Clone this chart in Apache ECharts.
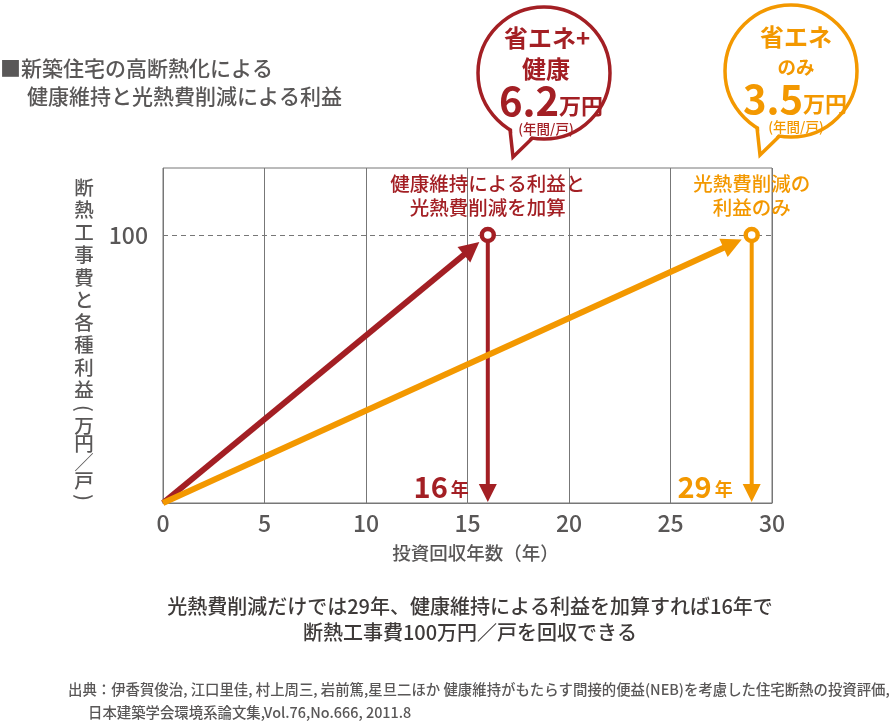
<!DOCTYPE html>
<html><head><meta charset="utf-8">
<script src="https://cdn.jsdelivr.net/npm/echarts@6/dist/echarts.min.js"></script>
<style>html,body{margin:0;padding:0;background:#fff}#c{width:896px;height:722px}</style>
</head><body><div id="c"></div>
<script>
const FONT = '"Noto Sans CJK JP","Noto Sans",sans-serif';
const GREY = '#595757';
const scenarioNames = ['省エネ+健康', '省エネのみ'];
const scenarioNotes = ['健康維持による利益と\n光熱費削減を加算', '光熱費削減の\n利益のみ'];
const paybackYears = [16, 29];
const investment = 100;
const annualBenefit = ['6.2', '3.5'];
const colors = ['#a31f24', '#f39800'];
const xTicks = [0, 5, 10, 15, 20, 25, 30];
const yTickShown = [100];

function makeRender(idx) {
  const color = colors[idx];
  return function (params, api) {
    const x = api.value(0), y = api.value(1);
    const p0 = api.coord([0, 0]);
    const p1 = api.coord([x, y]);
    const pb = api.coord([x, 0]);
    let dx = p1[0] - p0[0], dy = p1[1] - p0[1];
    const len = Math.sqrt(dx * dx + dy * dy);
    const ux = dx / len, uy = dy / len;
    const nx = -uy, ny = ux;
    const tip = [p1[0] - ux * 11, p1[1] - uy * 11];
    const base = [tip[0] - ux * 20, tip[1] - uy * 20];
    const vTipY = pb[1] - 1, vBaseY = vTipY - 18;
    return {
      type: 'group',
      children: [
        { type: 'line', shape: { x1: p0[0], y1: p0[1], x2: base[0] + ux * 2, y2: base[1] + uy * 2 },
          style: { stroke: color, lineWidth: 6 } },
        { type: 'polygon', shape: { points: [tip, [base[0] + nx * 10, base[1] + ny * 10], [base[0] - nx * 10, base[1] - ny * 10]] },
          style: { fill: color } },
        { type: 'line', shape: { x1: p1[0], y1: p1[1], x2: p1[0], y2: vBaseY + 1 },
          style: { stroke: color, lineWidth: 4 } },
        { type: 'polygon', shape: { points: [[pb[0], vTipY], [pb[0] - 9, vBaseY], [pb[0] + 9, vBaseY]] },
          style: { fill: color } },
        { type: 'circle', shape: { cx: p1[0], cy: p1[1], r: 6 },
          style: { fill: '#fff', stroke: color, lineWidth: 4.5 } },
        { type: 'text', x: p1[0], y: p1[1] - 39,
          style: { text: scenarioNotes[idx], fill: color, font: '500 19.5px ' + FONT, lineHeight: 24,
                   align: 'center', verticalAlign: 'middle' } },
        { type: 'text', x: pb[0] - 19, y: pb[1] - 16,
          style: { text: '{n|' + x + '}{u|年}', align: 'right', verticalAlign: 'middle',
                   rich: { n: { fontSize: 29, fontWeight: 'bold', fill: color, fontFamily: FONT, padding: [0, 3, 0, 0] },
                           u: { fontSize: 18, fontWeight: 'bold', fill: color, fontFamily: FONT, padding: [4, 0, 0, 0] } } } }
      ]
    };
  };
}

function bubble(cx, cy, r, tip, a1, a2, color, lines) {
  const rad = d => d * Math.PI / 180;
  const q1 = [cx + r * Math.cos(rad(a1)), cy + r * Math.sin(rad(a1))];
  const q2 = [cx + r * Math.cos(rad(a2)), cy + r * Math.sin(rad(a2))];
  const qi1 = [cx + (r - 4) * Math.cos(rad(a1)), cy + (r - 4) * Math.sin(rad(a1))];
  const qi2 = [cx + (r - 4) * Math.cos(rad(a2)), cy + (r - 4) * Math.sin(rad(a2))];
  return [
    { type: 'circle', shape: { cx, cy, r }, style: { fill: '#fff', stroke: color, lineWidth: 3.5 } },
    { type: 'polygon', shape: { points: [qi1, tip, qi2] }, style: { fill: '#fff' } },
    { type: 'polyline', shape: { points: [q1, tip, q2] }, style: { stroke: color, lineWidth: 3.5, fill: null } }
  ].concat(lines);
}

function txt(x, y, text, size, color, weight, align) {
  return { type: 'text', x, y, style: { text, fill: color || GREY, font: (weight || '500') + ' ' + size + 'px ' + FONT,
           textAlign: align || 'left', textVerticalAlign: 'middle' } };
}

function moneyText(x, y, val, color) {
  return { type: 'text', x, y, style: { text: '{a|' + val + '}{b|万円}', textAlign: 'center', textVerticalAlign: 'middle',
    rich: { a: { fontSize: 40, fontWeight: 'bold', fill: color, fontFamily: FONT },
            b: { fontSize: 22, fontWeight: 'bold', fill: color, fontFamily: FONT, padding: [10, 0, 0, 0] } } } };
}

// vertical axis title
function verticalTitle(label, x, yStart) {
  const out = [];
  let y = yStart;
  let afterParen = false;
  label.split('').forEach(ch => {
    if (ch === '(' || ch === ')') {
      const h = 15;
      out.push({ type: 'text', x, y: y + h / 2, rotation: -Math.PI / 2,
        style: { text: ch, fill: GREY, font: '500 19.5px ' + FONT, textAlign: 'center', textVerticalAlign: 'middle' } });
      y += h;
      afterParen = true;
    } else {
      const h = afterParen ? 18.5 : 22.5;
      out.push({ type: 'text', x, y: y + h / 2,
        style: { text: ch, fill: GREY, font: '500 19.5px ' + FONT, textAlign: 'center', textVerticalAlign: 'middle' } });
      y += h;
    }
  });
  return out;
}

const chart = echarts.init(document.getElementById('c'));
const series = paybackYears.map((yr, i) => ({
  type: 'custom',
  name: scenarioNames[i],
  data: [[yr, investment]],
  clip: false,
  z: 5 + i,
  renderItem: makeRender(i),
  markLine: i === 0 ? {
    silent: true, symbol: 'none', label: { show: false }, z: 1,
    lineStyle: { type: [5, 4], color: '#777', width: 1 },
    data: [{ yAxis: investment }]
  } : undefined
}));

const redBubble = bubble(544, 73, 66, [513, 157], 100, 121, colors[0], [
  txt(547, 38, '省エネ+', 24, colors[0], 'bold', 'center'),
  txt(546, 69, '健康', 24, colors[0], 'bold', 'center'),
  moneyText(551, 101, annualBenefit[0], colors[0]),
  txt(546, 129, '(年間/戸)', 13.5, colors[0], '500', 'center')
]);
const orangeBubble = bubble(791, 71, 66, [760, 155], 100, 121, colors[1], [
  txt(796, 37, '省エネ', 24, colors[1], 'bold', 'center'),
  txt(796, 67, 'のみ', 18.5, colors[1], 'bold', 'center'),
  moneyText(795, 99, annualBenefit[1], colors[1]),
  txt(796, 127, '(年間/戸)', 13.5, colors[1], '500', 'center')
]);

chart.setOption({
  animation: false,
  textStyle: { fontFamily: FONT },
  grid: { left: 163, right: 124, top: 168, bottom: 219, show: true, borderColor: '#777', borderWidth: 1, backgroundColor: 'transparent' },
  xAxis: {
    type: 'value', min: xTicks[0], max: xTicks[xTicks.length - 1], interval: 5,
    axisLine: { show: true, lineStyle: { color: '#777', width: 1 } },
    axisTick: { show: false },
    splitLine: { show: true, lineStyle: { color: '#777', width: 1 } },
    axisLabel: { fontSize: 23, color: GREY, margin: 9, fontFamily: FONT, fontWeight: 500 },
    name: '投資回収年数（年）', nameLocation: 'middle', nameGap: 41,
    nameTextStyle: { fontSize: 18.5, color: GREY, fontFamily: FONT, fontWeight: 500, padding: [0, 0, 0, 16] }
  },
  yAxis: {
    type: 'value', min: 0, max: 125, interval: 100,
    axisLine: { show: false }, axisTick: { show: false }, splitLine: { show: false },
    axisLabel: { fontSize: 23, color: GREY, margin: 15, fontFamily: FONT, fontWeight: 500,
                 formatter: v => yTickShown.indexOf(v) >= 0 ? String(v) : '' }
  },
  graphic: [
    txt(0, 68, '■新築住宅の高断熱化による', 21, GREY),
    txt(27, 96, '健康維持と光熱費削減による利益', 21, GREY)
  ].concat(
    verticalTitle('断熱工事費と各種利益(万円／戸)', 84, 176),
    [
      txt(470, 606, '光熱費削減だけでは29年、健康維持による利益を加算すれば16年で', 20, '#3e3a39', '500', 'center'),
      txt(470, 632, '断熱工事費100万円／戸を回収できる', 20, '#3e3a39', '500', 'center'),
      txt(68, 690, '出典：伊香賀俊治, 江口里佳, 村上周三, 岩前篤,星旦二ほか 健康維持がもたらす間接的便益(NEB)を考慮した住宅断熱の投資評価,', 14.4, GREY),
      txt(88, 713, '日本建築学会環境系論文集,Vol.76,No.666, 2011.8', 14.4, GREY)
    ],
    redBubble, orangeBubble),
  series: series
});
</script></body></html>
